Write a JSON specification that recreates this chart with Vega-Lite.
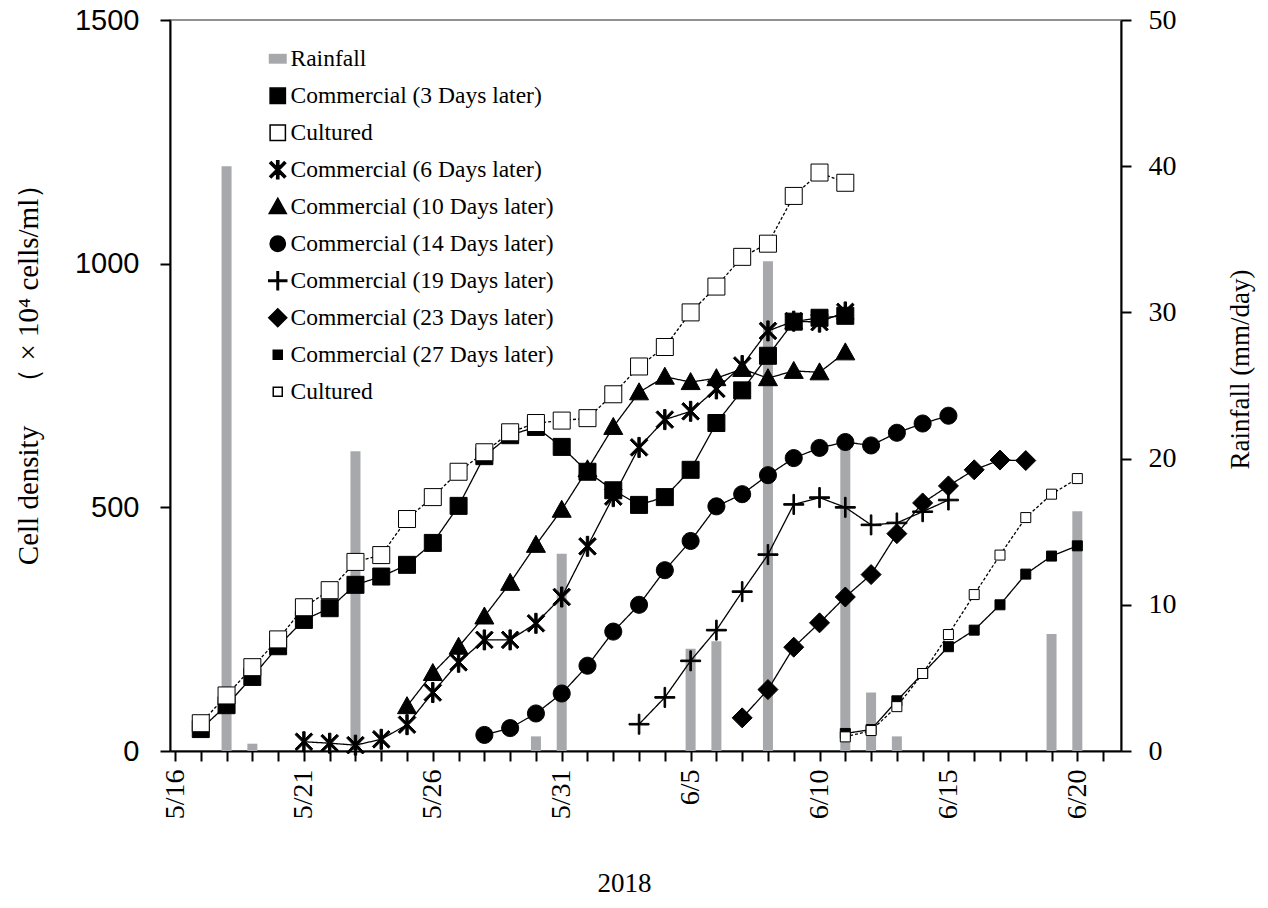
{
  "$schema": "https://vega.github.io/schema/vega-lite/v6.json",
  "width": 951,
  "height": 731,
  "autosize": {"type": "none"},
  "padding": {"left": 170, "top": 20, "right": 147, "bottom": 157},
  "background": "white",
  "config": {
    "view": {"stroke": "#6e6e6e", "strokeWidth": 1.5},
    "axis": {"grid": false, "domainColor": "black", "domainWidth": 2, "tickColor": "black", "tickWidth": 2, "tickSize": 10, "labelColor": "black", "titleColor": "black", "titleFontWeight": "normal"}
  },
  "datasets": {
    "rain": [
      {"date": "2018-05-18", "rain": 40},
      {"date": "2018-05-19", "rain": 0.5},
      {"date": "2018-05-23", "rain": 20.5},
      {"date": "2018-05-30", "rain": 1.0},
      {"date": "2018-05-31", "rain": 13.5},
      {"date": "2018-06-05", "rain": 7.0},
      {"date": "2018-06-06", "rain": 7.5},
      {"date": "2018-06-08", "rain": 33.5},
      {"date": "2018-06-11", "rain": 20.8},
      {"date": "2018-06-12", "rain": 4.0},
      {"date": "2018-06-13", "rain": 1.0},
      {"date": "2018-06-19", "rain": 8.0},
      {"date": "2018-06-20", "rain": 16.4}
    ],
    "cells": [
      {"date": "2018-05-17", "series": "Commercial (3 Days later)", "value": 45},
      {"date": "2018-05-18", "series": "Commercial (3 Days later)", "value": 94},
      {"date": "2018-05-19", "series": "Commercial (3 Days later)", "value": 152},
      {"date": "2018-05-20", "series": "Commercial (3 Days later)", "value": 215},
      {"date": "2018-05-21", "series": "Commercial (3 Days later)", "value": 269},
      {"date": "2018-05-22", "series": "Commercial (3 Days later)", "value": 293},
      {"date": "2018-05-23", "series": "Commercial (3 Days later)", "value": 341},
      {"date": "2018-05-24", "series": "Commercial (3 Days later)", "value": 358},
      {"date": "2018-05-25", "series": "Commercial (3 Days later)", "value": 382},
      {"date": "2018-05-26", "series": "Commercial (3 Days later)", "value": 427},
      {"date": "2018-05-27", "series": "Commercial (3 Days later)", "value": 503},
      {"date": "2018-05-28", "series": "Commercial (3 Days later)", "value": 605},
      {"date": "2018-05-29", "series": "Commercial (3 Days later)", "value": 648},
      {"date": "2018-05-30", "series": "Commercial (3 Days later)", "value": 665},
      {"date": "2018-05-31", "series": "Commercial (3 Days later)", "value": 624},
      {"date": "2018-06-01", "series": "Commercial (3 Days later)", "value": 573},
      {"date": "2018-06-02", "series": "Commercial (3 Days later)", "value": 535},
      {"date": "2018-06-03", "series": "Commercial (3 Days later)", "value": 505},
      {"date": "2018-06-04", "series": "Commercial (3 Days later)", "value": 521},
      {"date": "2018-06-05", "series": "Commercial (3 Days later)", "value": 577},
      {"date": "2018-06-06", "series": "Commercial (3 Days later)", "value": 673},
      {"date": "2018-06-07", "series": "Commercial (3 Days later)", "value": 740},
      {"date": "2018-06-08", "series": "Commercial (3 Days later)", "value": 811},
      {"date": "2018-06-09", "series": "Commercial (3 Days later)", "value": 881},
      {"date": "2018-06-10", "series": "Commercial (3 Days later)", "value": 889},
      {"date": "2018-06-11", "series": "Commercial (3 Days later)", "value": 893},
      {"date": "2018-05-17", "series": "Cultured 1", "value": 57},
      {"date": "2018-05-18", "series": "Cultured 1", "value": 114},
      {"date": "2018-05-19", "series": "Cultured 1", "value": 172},
      {"date": "2018-05-20", "series": "Cultured 1", "value": 229},
      {"date": "2018-05-21", "series": "Cultured 1", "value": 295},
      {"date": "2018-05-22", "series": "Cultured 1", "value": 330},
      {"date": "2018-05-23", "series": "Cultured 1", "value": 388},
      {"date": "2018-05-24", "series": "Cultured 1", "value": 402},
      {"date": "2018-05-25", "series": "Cultured 1", "value": 476},
      {"date": "2018-05-26", "series": "Cultured 1", "value": 521},
      {"date": "2018-05-27", "series": "Cultured 1", "value": 573},
      {"date": "2018-05-28", "series": "Cultured 1", "value": 613},
      {"date": "2018-05-29", "series": "Cultured 1", "value": 654},
      {"date": "2018-05-30", "series": "Cultured 1", "value": 673},
      {"date": "2018-05-31", "series": "Cultured 1", "value": 678},
      {"date": "2018-06-01", "series": "Cultured 1", "value": 683},
      {"date": "2018-06-02", "series": "Cultured 1", "value": 732},
      {"date": "2018-06-03", "series": "Cultured 1", "value": 789},
      {"date": "2018-06-04", "series": "Cultured 1", "value": 829},
      {"date": "2018-06-05", "series": "Cultured 1", "value": 900},
      {"date": "2018-06-06", "series": "Cultured 1", "value": 953},
      {"date": "2018-06-07", "series": "Cultured 1", "value": 1014},
      {"date": "2018-06-08", "series": "Cultured 1", "value": 1041},
      {"date": "2018-06-09", "series": "Cultured 1", "value": 1139},
      {"date": "2018-06-10", "series": "Cultured 1", "value": 1187},
      {"date": "2018-06-11", "series": "Cultured 1", "value": 1166},
      {"date": "2018-05-21", "series": "Commercial (6 Days later)", "value": 19},
      {"date": "2018-05-22", "series": "Commercial (6 Days later)", "value": 16},
      {"date": "2018-05-23", "series": "Commercial (6 Days later)", "value": 12},
      {"date": "2018-05-24", "series": "Commercial (6 Days later)", "value": 24},
      {"date": "2018-05-25", "series": "Commercial (6 Days later)", "value": 54},
      {"date": "2018-05-26", "series": "Commercial (6 Days later)", "value": 120},
      {"date": "2018-05-27", "series": "Commercial (6 Days later)", "value": 182},
      {"date": "2018-05-28", "series": "Commercial (6 Days later)", "value": 228},
      {"date": "2018-05-29", "series": "Commercial (6 Days later)", "value": 228},
      {"date": "2018-05-30", "series": "Commercial (6 Days later)", "value": 262},
      {"date": "2018-05-31", "series": "Commercial (6 Days later)", "value": 316},
      {"date": "2018-06-01", "series": "Commercial (6 Days later)", "value": 420},
      {"date": "2018-06-02", "series": "Commercial (6 Days later)", "value": 522},
      {"date": "2018-06-03", "series": "Commercial (6 Days later)", "value": 623},
      {"date": "2018-06-04", "series": "Commercial (6 Days later)", "value": 680},
      {"date": "2018-06-05", "series": "Commercial (6 Days later)", "value": 697},
      {"date": "2018-06-06", "series": "Commercial (6 Days later)", "value": 743},
      {"date": "2018-06-07", "series": "Commercial (6 Days later)", "value": 791},
      {"date": "2018-06-08", "series": "Commercial (6 Days later)", "value": 862},
      {"date": "2018-06-09", "series": "Commercial (6 Days later)", "value": 882},
      {"date": "2018-06-10", "series": "Commercial (6 Days later)", "value": 880},
      {"date": "2018-06-11", "series": "Commercial (6 Days later)", "value": 901},
      {"date": "2018-05-25", "series": "Commercial (10 Days later)", "value": 92},
      {"date": "2018-05-26", "series": "Commercial (10 Days later)", "value": 160},
      {"date": "2018-05-27", "series": "Commercial (10 Days later)", "value": 214},
      {"date": "2018-05-28", "series": "Commercial (10 Days later)", "value": 276},
      {"date": "2018-05-29", "series": "Commercial (10 Days later)", "value": 345},
      {"date": "2018-05-30", "series": "Commercial (10 Days later)", "value": 423},
      {"date": "2018-05-31", "series": "Commercial (10 Days later)", "value": 495},
      {"date": "2018-06-01", "series": "Commercial (10 Days later)", "value": 578},
      {"date": "2018-06-02", "series": "Commercial (10 Days later)", "value": 665},
      {"date": "2018-06-03", "series": "Commercial (10 Days later)", "value": 736},
      {"date": "2018-06-04", "series": "Commercial (10 Days later)", "value": 768},
      {"date": "2018-06-05", "series": "Commercial (10 Days later)", "value": 757},
      {"date": "2018-06-06", "series": "Commercial (10 Days later)", "value": 765},
      {"date": "2018-06-07", "series": "Commercial (10 Days later)", "value": 784},
      {"date": "2018-06-08", "series": "Commercial (10 Days later)", "value": 765},
      {"date": "2018-06-09", "series": "Commercial (10 Days later)", "value": 780},
      {"date": "2018-06-10", "series": "Commercial (10 Days later)", "value": 777},
      {"date": "2018-06-11", "series": "Commercial (10 Days later)", "value": 818},
      {"date": "2018-05-28", "series": "Commercial (14 Days later)", "value": 33},
      {"date": "2018-05-29", "series": "Commercial (14 Days later)", "value": 47},
      {"date": "2018-05-30", "series": "Commercial (14 Days later)", "value": 77},
      {"date": "2018-05-31", "series": "Commercial (14 Days later)", "value": 118},
      {"date": "2018-06-01", "series": "Commercial (14 Days later)", "value": 175},
      {"date": "2018-06-02", "series": "Commercial (14 Days later)", "value": 245},
      {"date": "2018-06-03", "series": "Commercial (14 Days later)", "value": 300},
      {"date": "2018-06-04", "series": "Commercial (14 Days later)", "value": 371},
      {"date": "2018-06-05", "series": "Commercial (14 Days later)", "value": 431},
      {"date": "2018-06-06", "series": "Commercial (14 Days later)", "value": 502},
      {"date": "2018-06-07", "series": "Commercial (14 Days later)", "value": 527},
      {"date": "2018-06-08", "series": "Commercial (14 Days later)", "value": 566},
      {"date": "2018-06-09", "series": "Commercial (14 Days later)", "value": 601},
      {"date": "2018-06-10", "series": "Commercial (14 Days later)", "value": 622},
      {"date": "2018-06-11", "series": "Commercial (14 Days later)", "value": 634},
      {"date": "2018-06-12", "series": "Commercial (14 Days later)", "value": 627},
      {"date": "2018-06-13", "series": "Commercial (14 Days later)", "value": 653},
      {"date": "2018-06-14", "series": "Commercial (14 Days later)", "value": 672},
      {"date": "2018-06-15", "series": "Commercial (14 Days later)", "value": 688},
      {"date": "2018-06-03", "series": "Commercial (19 Days later)", "value": 55},
      {"date": "2018-06-04", "series": "Commercial (19 Days later)", "value": 110},
      {"date": "2018-06-05", "series": "Commercial (19 Days later)", "value": 185},
      {"date": "2018-06-06", "series": "Commercial (19 Days later)", "value": 248},
      {"date": "2018-06-07", "series": "Commercial (19 Days later)", "value": 327},
      {"date": "2018-06-08", "series": "Commercial (19 Days later)", "value": 403},
      {"date": "2018-06-09", "series": "Commercial (19 Days later)", "value": 506},
      {"date": "2018-06-10", "series": "Commercial (19 Days later)", "value": 520},
      {"date": "2018-06-11", "series": "Commercial (19 Days later)", "value": 500},
      {"date": "2018-06-12", "series": "Commercial (19 Days later)", "value": 464},
      {"date": "2018-06-13", "series": "Commercial (19 Days later)", "value": 468},
      {"date": "2018-06-14", "series": "Commercial (19 Days later)", "value": 491},
      {"date": "2018-06-15", "series": "Commercial (19 Days later)", "value": 515},
      {"date": "2018-06-07", "series": "Commercial (23 Days later)", "value": 68},
      {"date": "2018-06-08", "series": "Commercial (23 Days later)", "value": 126},
      {"date": "2018-06-09", "series": "Commercial (23 Days later)", "value": 213},
      {"date": "2018-06-10", "series": "Commercial (23 Days later)", "value": 263},
      {"date": "2018-06-11", "series": "Commercial (23 Days later)", "value": 316},
      {"date": "2018-06-12", "series": "Commercial (23 Days later)", "value": 362},
      {"date": "2018-06-13", "series": "Commercial (23 Days later)", "value": 446},
      {"date": "2018-06-14", "series": "Commercial (23 Days later)", "value": 509},
      {"date": "2018-06-15", "series": "Commercial (23 Days later)", "value": 544},
      {"date": "2018-06-16", "series": "Commercial (23 Days later)", "value": 577},
      {"date": "2018-06-17", "series": "Commercial (23 Days later)", "value": 597},
      {"date": "2018-06-18", "series": "Commercial (23 Days later)", "value": 596},
      {"date": "2018-06-11", "series": "Commercial (27 Days later)", "value": 36},
      {"date": "2018-06-12", "series": "Commercial (27 Days later)", "value": 44},
      {"date": "2018-06-13", "series": "Commercial (27 Days later)", "value": 103},
      {"date": "2018-06-14", "series": "Commercial (27 Days later)", "value": 159},
      {"date": "2018-06-15", "series": "Commercial (27 Days later)", "value": 214},
      {"date": "2018-06-16", "series": "Commercial (27 Days later)", "value": 248},
      {"date": "2018-06-17", "series": "Commercial (27 Days later)", "value": 300},
      {"date": "2018-06-18", "series": "Commercial (27 Days later)", "value": 363},
      {"date": "2018-06-19", "series": "Commercial (27 Days later)", "value": 400},
      {"date": "2018-06-20", "series": "Commercial (27 Days later)", "value": 421},
      {"date": "2018-06-11", "series": "Cultured 2", "value": 29},
      {"date": "2018-06-12", "series": "Cultured 2", "value": 42},
      {"date": "2018-06-13", "series": "Cultured 2", "value": 91},
      {"date": "2018-06-14", "series": "Cultured 2", "value": 159},
      {"date": "2018-06-15", "series": "Cultured 2", "value": 239},
      {"date": "2018-06-16", "series": "Cultured 2", "value": 321},
      {"date": "2018-06-17", "series": "Cultured 2", "value": 402},
      {"date": "2018-06-18", "series": "Cultured 2", "value": 479},
      {"date": "2018-06-19", "series": "Cultured 2", "value": 527},
      {"date": "2018-06-20", "series": "Cultured 2", "value": 559}
    ]
  },
  "encoding": {
    "x": {
      "field": "date",
      "type": "temporal",
      "scale": {"type": "utc", "domain": [{"year": 2018, "month": 5, "date": 16, "utc": true}, {"year": 2018, "month": 6, "date": 21, "hours": 12, "utc": true}], "nice": false},
      "axis": {
        "title": "2018",
        "titleFont": "Liberation Serif",
        "titleFontSize": 27,
        "titleX": 454,
        "titleY": 132,
        "titleBaseline": "middle",
        "titleAlign": "center",
        "tickCount": {"interval": "day", "step": 1},
        "labelExpr": "round((datum.value - utc(2018,4,16)) / 86400000) % 5 === 0 ? utcFormat(datum.value, '%-m/%-d') : ''",
        "labelAngle": 270,
        "labelAlign": "right",
        "labelBaseline": "middle",
        "labelFont": "Liberation Serif",
        "labelFontSize": 28,
        "labelPadding": 8,
        "labelOverlap": false,
        "labelFlush": false,
        "labelBound": false
      }
    }
  },
  "layer": [
    {
      "data": {"name": "rain"},
      "mark": {"type": "bar", "size": 10, "color": "#a6a8ab"},
      "encoding": {
        "y": {
          "field": "rain",
          "type": "quantitative",
          "scale": {"domain": [0, 50], "nice": false},
          "axis": {
            "orient": "right",
            "values": [0, 10, 20, 30, 40, 50],
            "title": "Rainfall (mm/day)",
            "titleFont": "Liberation Serif",
            "titleFontSize": 27,
            "titleAngle": 270,
            "titleX": 119,
            "titleY": 349,
            "titleAlign": "center",
            "titleBaseline": "middle",
            "labelFont": "Liberation Serif",
            "labelFontSize": 28,
            "labelPadding": 17
          }
        }
      }
    },
    {
      "data": {"name": "cells"},
      "encoding": {
        "y": {
          "field": "value",
          "type": "quantitative",
          "scale": {"domain": [0, 1500], "nice": false},
          "axis": {
            "orient": "left",
            "values": [0, 500, 1000, 1500],
            "format": "d",
            "title": "Cell density　（ × 10⁴ cells/ml）",
            "titleFont": "Liberation Serif",
            "titleFontSize": 29,
            "titleAngle": 270,
            "titleX": -142,
            "titleY": 347,
            "titleAlign": "center",
            "titleBaseline": "middle",
            "labelFont": "Liberation Sans",
            "labelFontSize": 29,
            "labelPadding": 21
          }
        }
      },
      "layer": [
        {
          "mark": {"type": "line", "color": "black", "strokeWidth": 1.3},
          "encoding": {
            "strokeDash": {
              "field": "series",
              "type": "nominal",
              "scale": {
                "domain": ["Commercial (3 Days later)", "Cultured 1", "Commercial (6 Days later)", "Commercial (10 Days later)", "Commercial (14 Days later)", "Commercial (19 Days later)", "Commercial (23 Days later)", "Commercial (27 Days later)", "Cultured 2"],
                "range": [[1, 0], [3, 2], [1, 0], [1, 0], [1, 0], [1, 0], [1, 0], [1, 0], [3, 2]]
              },
              "legend": null
            }
          }
        },
        {
          "mark": {"type": "point", "strokeWidth": 1, "size": 400, "opacity": 1},
          "encoding": {
            "shape": {
              "field": "series",
              "type": "nominal",
              "scale": {
                "domain": ["Rainfall", "Commercial (3 Days later)", "Cultured 1", "Commercial (6 Days later)", "Commercial (10 Days later)", "Commercial (14 Days later)", "Commercial (19 Days later)", "Commercial (23 Days later)", "Commercial (27 Days later)", "Cultured 2"],
                "range": [
                  "M-1,-0.55H1V0.55H-1Z",
                  "M-0.85,-0.85H0.85V0.85H-0.85Z",
                  "M-0.85,-0.85H0.85V0.85H-0.85Z",
                  "M-0.12,-1H0.12V1H-0.12ZM-0.715,-0.885L0.885,0.715L0.715,0.885L-0.885,-0.715ZM-0.885,0.715L0.715,-0.885L0.885,-0.715L-0.715,0.885Z",
                  "M0,-0.95L0.95,0.75L-0.95,0.75Z",
                  "M0.85,0A0.85,0.85 0 1,1 -0.85,0A0.85,0.85 0 1,1 0.85,0Z",
                  "M-1,-0.08H1V0.08H-1ZM-0.08,-1H0.08V1H-0.08Z",
                  "M0,-1L1,0L0,1L-1,0Z",
                  "M-0.5,-0.5H0.5V0.5H-0.5Z",
                  "M-0.5,-0.5H0.5V0.5H-0.5Z"
                ]
              },
              "legend": {
                "title": null,
                "orient": "none",
                "legendX": 96,
                "legendY": 27,
                "padding": 0,
                "rowPadding": 12,
                "labelFont": "Liberation Serif",
                "labelFontSize": 23.5,
                "labelColor": "black",
                "labelLimit": 600,
                "labelOffset": 1,
                "symbolSize": 324,
                "labelExpr": "indexof(datum.label, 'Cultured') === 0 ? 'Cultured' : datum.label"
              }
            },
            "fill": {
              "field": "series",
              "type": "nominal",
              "scale": {
                "domain": ["Rainfall", "Commercial (3 Days later)", "Cultured 1", "Commercial (6 Days later)", "Commercial (10 Days later)", "Commercial (14 Days later)", "Commercial (19 Days later)", "Commercial (23 Days later)", "Commercial (27 Days later)", "Cultured 2"],
                "range": ["#a6a8ab", "black", "white", "black", "black", "black", "black", "black", "black", "white"]
              },
              "legend": null
            },
            "stroke": {
              "field": "series",
              "type": "nominal",
              "scale": {
                "domain": ["Rainfall", "Commercial (3 Days later)", "Cultured 1", "Commercial (6 Days later)", "Commercial (10 Days later)", "Commercial (14 Days later)", "Commercial (19 Days later)", "Commercial (23 Days later)", "Commercial (27 Days later)", "Cultured 2"],
                "range": ["transparent", "black", "black", "black", "black", "black", "black", "black", "black", "black"]
              },
              "legend": null
            }
          }
        }
      ]
    }
  ],
  "resolve": {"scale": {"y": "independent"}}
}
